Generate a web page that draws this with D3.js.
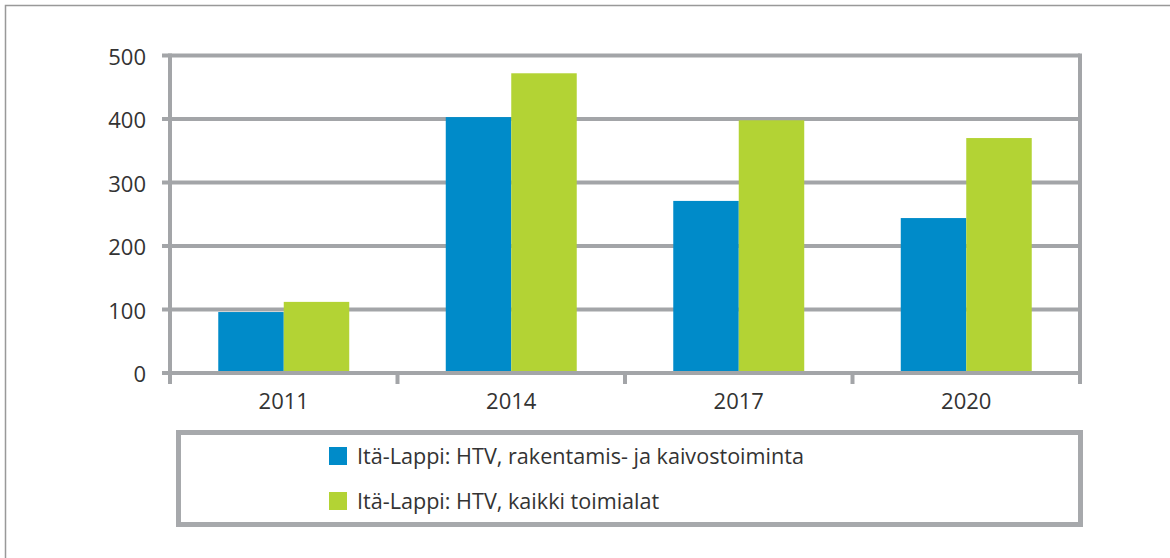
<!DOCTYPE html>
<html>
<head>
<meta charset="utf-8">
<script src="https://cdn.jsdelivr.net/npm/d3@7"></script>
<style>
  body { margin: 0; background: #fff; }
  svg { display: block; font-family: "Open Sans", "Noto Sans", sans-serif; }
</style>
</head>
<body>
<svg id="chart" width="1170" height="558"></svg>
<script>
// data
const years = ['2011', '2014', '2017', '2020'];
const seriesNames = [
  'Itä-Lappi: HTV, rakentamis- ja kaivostoiminta',
  'Itä-Lappi: HTV, kaikki toimialat'
];
const rakentaminen = [96, 403, 271, 244];
const kaikki = [112, 472, 398, 370];
const yTicks = [0, 100, 200, 300, 400, 500];

const colors = ['#008bc9', '#b3d334'];
const gridColor = '#a3a5a8';

const svg = d3.select('#chart');

// outer frame (runs past the right and bottom edges)
svg.append('rect')
  .attr('x', 5.5).attr('y', 5.5)
  .attr('width', 1300).attr('height', 700)
  .attr('fill', 'none')
  .attr('stroke', '#999')
  .attr('stroke-width', 1.5);

const plot = { left: 170, right: 1080, top: 55.5, bottom: 373 };

const x = d3.scaleBand().domain(years).range([plot.left, plot.right]).paddingInner(0).paddingOuter(0);
const xSub = d3.scaleBand().domain([0, 1]).range([0, x.bandwidth()]).paddingInner(0).paddingOuter(0.737);
const y = d3.scaleLinear().domain([0, 500]).range([plot.bottom, plot.top]);

// horizontal grid lines (they stick out left as ticks)
svg.append('g')
  .selectAll('line')
  .data(yTicks.filter(d => d > 0))
  .join('line')
  .attr('x1', plot.left - 8)
  .attr('x2', plot.right)
  .attr('y1', d => y(d))
  .attr('y2', d => y(d))
  .attr('stroke', gridColor)
  .attr('stroke-width', 4);

// bars
const values = [rakentaminen, kaikki];
values.forEach((vals, s) => {
  svg.append('g')
    .selectAll('rect')
    .data(vals)
    .join('rect')
    .attr('x', (d, i) => x(years[i]) + xSub(s))
    .attr('y', d => y(d))
    .attr('width', xSub.bandwidth())
    .attr('height', d => y(0) - y(d))
    .attr('fill', colors[s]);
});

// axis lines
const axes = svg.append('g').attr('stroke', gridColor).attr('stroke-width', 4);
axes.append('line') // zero line
  .attr('x1', plot.left - 8).attr('x2', plot.right + 2)
  .attr('y1', y(0)).attr('y2', y(0));
axes.append('line') // left
  .attr('x1', plot.left).attr('x2', plot.left)
  .attr('y1', plot.top - 2).attr('y2', plot.bottom + 11);
axes.append('line') // right
  .attr('x1', plot.right).attr('x2', plot.right)
  .attr('y1', plot.top - 2).attr('y2', plot.bottom + 11);

// x tick marks at category boundaries
axes.selectAll('line.xtick')
  .data(years.slice(1))
  .join('line')
  .attr('class', 'xtick')
  .attr('x1', d => x(d)).attr('x2', d => x(d))
  .attr('y1', plot.bottom).attr('y2', plot.bottom + 11);

// y labels
svg.append('g')
  .selectAll('text')
  .data(yTicks)
  .join('text')
  .attr('x', 146)
  .attr('y', d => y(d) + 9)
  .attr('text-anchor', 'end')
  .attr('font-size', 22)
  .attr('fill', '#333')
  .text(d => d);

// x labels
svg.append('g')
  .selectAll('text')
  .data(years)
  .join('text')
  .attr('x', d => x(d) + x.bandwidth() / 2)
  .attr('y', 409)
  .attr('text-anchor', 'middle')
  .attr('font-size', 22)
  .attr('fill', '#333')
  .text(d => d);

// legend
svg.append('rect')
  .attr('x', 178.5).attr('y', 432.5)
  .attr('width', 902).attr('height', 92)
  .attr('fill', 'none')
  .attr('stroke', '#a7a9ac')
  .attr('stroke-width', 5);

const legend = svg.append('g')
  .selectAll('g')
  .data(seriesNames)
  .join('g')
  .attr('transform', (d, i) => `translate(329, ${447 + i * 45})`);

legend.append('rect')
  .attr('width', 18).attr('height', 18)
  .attr('fill', (d, i) => colors[i]);

legend.append('text')
  .attr('x', 28)
  .attr('y', 17)
  .attr('font-size', 21.6)
  .attr('fill', '#333')
  .text(d => d);
</script>
</body>
</html>
